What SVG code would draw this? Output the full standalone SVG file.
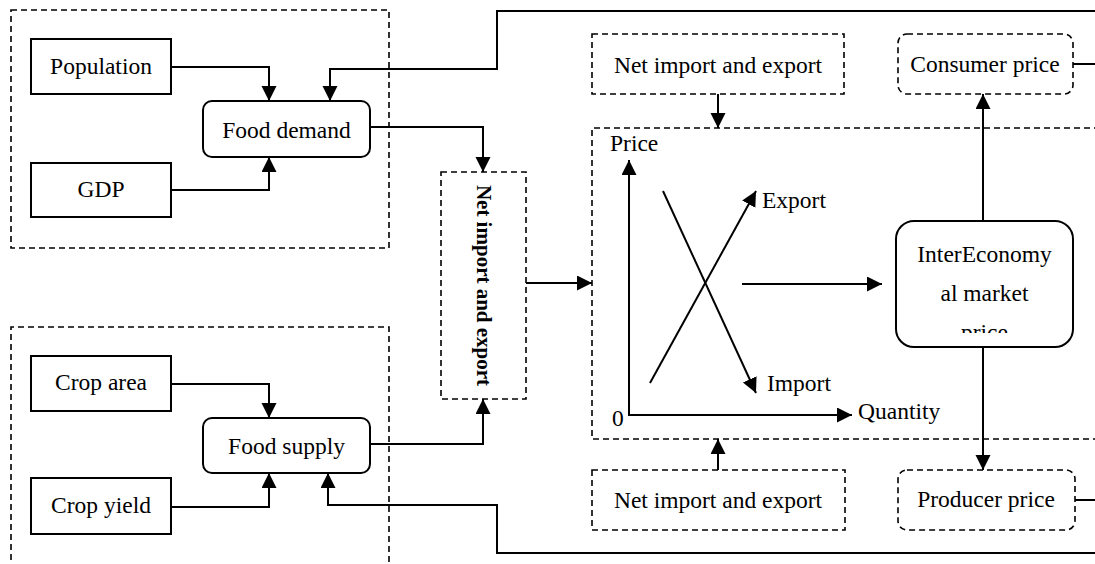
<svg xmlns="http://www.w3.org/2000/svg" width="1095" height="564" viewBox="0 0 1095 564">
  <style>
    .t { font-family: "Liberation Serif", "Times New Roman", serif; font-size: 23.5px; fill: #000; }
    .tc { text-anchor: middle; }
    .tb { font-weight: bold; font-size: 21px; }
    .box { fill: #fff; stroke: #000; stroke-width: 2; }
    .dbox { fill: none; stroke: #000; stroke-width: 1.6; stroke-dasharray: 6 4; }
    .ln { fill: none; stroke: #000; stroke-width: 2; }
    .arr { marker-end: url(#ah); }
  </style>
  <defs>
    <marker id="ah" markerUnits="userSpaceOnUse" markerWidth="16" markerHeight="16" refX="15" refY="7.5" orient="auto">
      <path d="M0,0 L15,7.5 L0,15 z" fill="#000"/>
    </marker>
    <clipPath id="clipIE">
      <rect x="896" y="221" width="177" height="112"/>
    </clipPath>
  </defs>

  <!-- group frames -->
  <g id="demand-group">
    <rect class="dbox" x="11" y="10" width="378" height="238"/>
  </g>
  <g id="supply-group">
    <path class="dbox" d="M11,570 V327 H389 V570"/>
  </g>
  <g id="market-frame">
    <path class="dbox" d="M1100,128 H592 V439 H1100"/>
  </g>

  <!-- nodes -->
  <g id="population">
    <rect class="box" x="31" y="39" width="140" height="55"/>
    <text class="t tc" x="101" y="74">Population</text>
  </g>
  <g id="gdp">
    <rect class="box" x="31" y="163" width="140" height="54"/>
    <text class="t tc" x="101" y="197">GDP</text>
  </g>
  <g id="food-demand">
    <rect class="box" x="203" y="101" width="167" height="56" rx="9"/>
    <text class="t tc" x="286.5" y="138">Food demand</text>
  </g>
  <g id="crop-area">
    <rect class="box" x="31" y="356" width="140" height="55"/>
    <text class="t tc" x="101" y="390">Crop area</text>
  </g>
  <g id="crop-yield">
    <rect class="box" x="31" y="478" width="140" height="56"/>
    <text class="t tc" x="101" y="513">Crop yield</text>
  </g>
  <g id="food-supply">
    <rect class="box" x="203" y="418" width="167" height="55" rx="9"/>
    <text class="t tc" x="286.5" y="454">Food supply</text>
  </g>
  <g id="net-trade-vertical">
    <rect class="dbox" x="441" y="172" width="85" height="227"/>
    <text class="t tb tc" x="0" y="0" dy="0.33em" transform="translate(483.5,285.5) rotate(90)">Net import and export</text>
  </g>
  <g id="net-trade-top">
    <rect class="dbox" x="592" y="34" width="252" height="60"/>
    <text class="t tc" x="718" y="73">Net import and export</text>
  </g>
  <g id="net-trade-bottom">
    <rect class="dbox" x="592" y="470" width="253" height="60"/>
    <text class="t tc" x="718" y="508">Net import and export</text>
  </g>
  <g id="consumer-price">
    <rect class="dbox" x="898" y="34" width="175" height="60" rx="9"/>
    <text class="t tc" x="985" y="72">Consumer price</text>
  </g>
  <g id="producer-price">
    <rect class="dbox" x="898" y="470" width="177" height="60" rx="9"/>
    <text class="t tc" x="986" y="507">Producer price</text>
  </g>
  <g id="market-price">
    <rect class="box" x="896" y="221" width="177" height="126" rx="18"/>
    <g clip-path="url(#clipIE)">
      <text class="t tc" x="984.5" y="262">InterEconomy</text>
      <text class="t tc" x="984.5" y="301">al market</text>
      <text class="t tc" x="984.5" y="340">price</text>
    </g>
  </g>

  <!-- trade chart -->
  <g id="trade-chart">
    <path class="ln arr" d="M629,415 V160"/>
    <path class="ln arr" d="M628,415 H852"/>
    <path class="ln arr" d="M650,383 L756,191"/>
    <path class="ln arr" d="M663,191 L756,393"/>
    <text class="t" x="610" y="151">Price</text>
    <text class="t" x="858" y="419">Quantity</text>
    <text class="t" x="612" y="426">0</text>
    <text class="t" x="762" y="208">Export</text>
    <text class="t" x="767" y="391">Import</text>
  </g>

  <!-- connectors -->
  <g id="connectors">
    <path class="ln arr" d="M171,67 H269 V101"/>
    <path class="ln arr" d="M171,190 H269 V157"/>
    <path class="ln arr" d="M171,384 H269 V418"/>
    <path class="ln arr" d="M171,507 H269 V473"/>
    <path class="ln arr" d="M1096,11 H497 V69 H330 V101"/>
    <path class="ln arr" d="M1096,553 H497 V505 H328 V473"/>
    <path class="ln arr" d="M370,127 H483 V172"/>
    <path class="ln arr" d="M370,444 H483 V399"/>
    <path class="ln arr" d="M526,283 H592"/>
    <path class="ln arr" d="M742,284 H882"/>
    <path class="ln arr" d="M718,94 V128"/>
    <path class="ln arr" d="M718,470 V439"/>
    <path class="ln arr" d="M983,221 V94"/>
    <path class="ln arr" d="M983,347 V470"/>
    <path class="ln" d="M1073,64 H1096"/>
    <path class="ln" d="M1075,500 H1096"/>
  </g>
</svg>
